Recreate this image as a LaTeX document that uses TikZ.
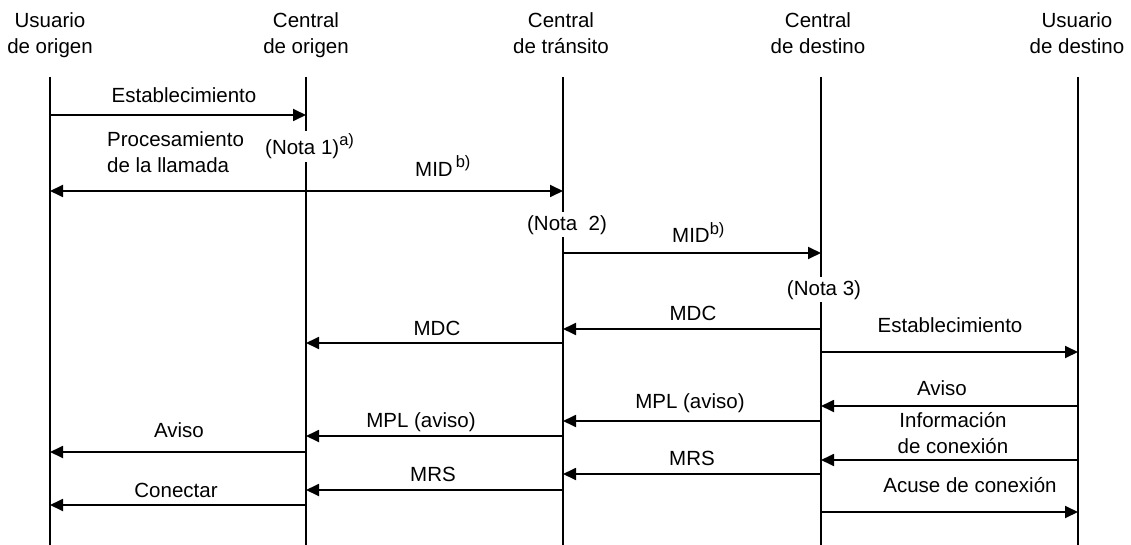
\documentclass[tikz,border=0pt]{standalone}
\usepackage{fontspec}
\setmainfont{Liberation Sans}
\usetikzlibrary{arrows.meta}
\newcommand{\supx}[1]{\raisebox{9pt}{\fontsize{16.5}{16.5}\selectfont #1}}
\begin{document}
\begin{tikzpicture}[x=1pt,y=-1pt,
  font=\fontsize{20.5}{26}\selectfont,
  life/.style={line width=1.8pt},
  msg/.style={line width=1.8pt,-{Triangle[length=13pt,width=12pt]}},
  bimsg/.style={line width=1.8pt,{Triangle[length=13pt,width=12pt]}-{Triangle[length=13pt,width=12pt]}},
  lbl/.style={inner sep=0pt,anchor=base,align=center},
  note/.style={fill=white,inner xsep=1pt,inner ysep=3pt,anchor=base}]
\useasboundingbox (0,0) rectangle (1131,545);
% headers (base anchor = baseline of last line)
\node[lbl] (h1) at (50,54) {Usuario\\de origen};
\node[lbl] (h2) at (306,54) {Central\\de origen};
\node[lbl] (h3) at (561,54) {Central\\de tránsito};
\node[lbl] (h4) at (818,54) {Central\\de destino};
\node[lbl] (h5) at (1077,54) {Usuario\\de destino};
% lifelines
\foreach \n/\x in {1/50,2/306,3/563,4/821,5/1078}{
  \coordinate (T\n) at (\x,77);
  \coordinate (B\n) at (\x,545);
  \draw[life] (T\n) -- (B\n);
}
% notes
\node[note,anchor=base west] (n1) at (264,155) {(Nota 1)\supx{a)}};
\node[note] (n2) at (567,230) {(Nota\ \ 2)};
\node[note] (n3) at (824,295) {(Nota 3)};
% labels
\node[lbl] (l1) at (184,103) {Establecimiento};
\node[lbl,anchor=base west,align=left] (l2) at (107,173) {Procesamiento\\de la llamada};
\node[lbl,anchor=base west] (l3) at (415,177) {MID\hspace{3pt}\supx{b)}};
\node[lbl,anchor=base west] (l4) at (672,243) {MID\supx{b)}};
\node[lbl] (l5) at (693,320) {MDC};
\node[lbl] (l6) at (437,335) {MDC};
\node[lbl] (l7) at (950,332) {Establecimiento};
\node[lbl] (l8) at (942,395) {Aviso};
\node[lbl] (l9) at (690,408) {MPL (aviso)};
\node[lbl] (l10) at (421,427) {MPL (aviso)};
\node[lbl] (l11) at (953,453) {Información\\de conexión};
\node[lbl] (l12) at (179,437) {Aviso};
\node[lbl] (l13) at (692,465) {MRS};
\node[lbl] (l14) at (433,481) {MRS};
\node[lbl] (l15) at (176,497) {Conectar};
\node[lbl] (l16) at (970,492) {Acuse de conexión};
% messages
\draw[msg] (T1 |- 0,115) -- (T2 |- 0,115);
\draw[bimsg] (T1 |- 0,191) -- (T3 |- 0,191);
\draw[msg] (T3 |- 0,253) -- (T4 |- 0,253);
\draw[msg] (T4 |- 0,329) -- (T3 |- 0,329);
\draw[msg] (T3 |- 0,343) -- (T2 |- 0,343);
\draw[msg] (T4 |- 0,352) -- (T5 |- 0,352);
\draw[msg] (T5 |- 0,406) -- (T4 |- 0,406);
\draw[msg] (T4 |- 0,421) -- (T3 |- 0,421);
\draw[msg] (T3 |- 0,436) -- (T2 |- 0,436);
\draw[msg] (T2 |- 0,452) -- (T1 |- 0,452);
\draw[msg] (T5 |- 0,460) -- (T4 |- 0,460);
\draw[msg] (T4 |- 0,474) -- (T3 |- 0,474);
\draw[msg] (T3 |- 0,490) -- (T2 |- 0,490);
\draw[msg] (T2 |- 0,505) -- (T1 |- 0,505);
\draw[msg] (T4 |- 0,512) -- (T5 |- 0,512);
\end{tikzpicture}
\end{document}
